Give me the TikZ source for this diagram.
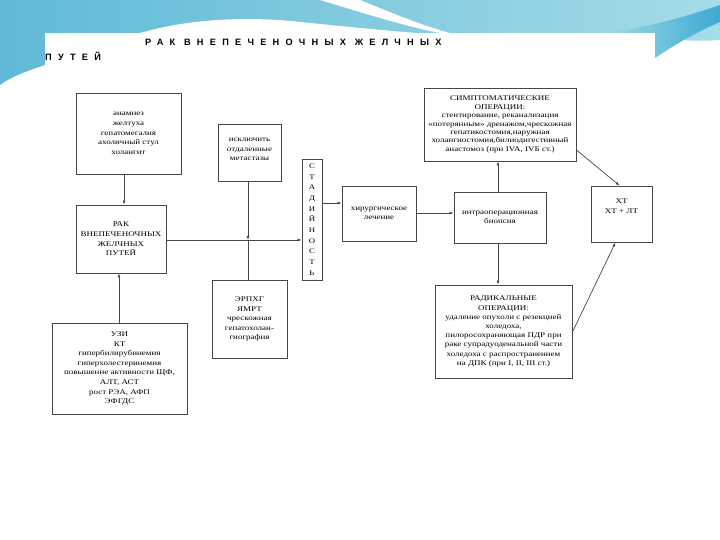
\documentclass[tikz,border=0pt]{standalone}
\usepackage{fontspec}
\setmainfont{Liberation Serif}
\newfontfamily\titlefont[LetterSpace=68]{Liberation Sans}
\newfontfamily\boxfont[FakeStretch=1.25]{Liberation Serif}
\usetikzlibrary{arrows.meta}
\definecolor{bgA}{RGB}{95,185,215}
\definecolor{bgB}{RGB}{165,220,232}
\definecolor{bgC}{RGB}{60,170,210}
\definecolor{boxline}{RGB}{70,70,70}
\tikzset{
  box/.style={draw=boxline, line width=0.9pt, fill=white, align=center, inner sep=1pt, font=\boxfont\fontsize{7.2}{9.6}\selectfont},
  dense/.style={font=\boxfont\fontsize{7.2}{8.4}\selectfont},
  conn/.style={draw=boxline, line width=0.7pt},
  arr/.style={conn, -{Latex[length=4pt,width=3pt]}}
}
\begin{document}
\begin{tikzpicture}[x=1pt,y=-1pt]
\useasboundingbox (0,0) rectangle (720,540);
\fill[white] (0,0) rectangle (720,540);
% background decoration
\shade[left color=bgA, right color=bgB] (0,0) -- (720,0) -- (720,40) .. controls (690,42) and (670,40) .. (655,33) -- (45,33) -- (45,65) .. controls (30,70) and (12,76) .. (0,85) -- cycle;
\fill[white] (120,40) .. controls (170,20) and (240,15) .. (300,22) .. controls (360,28) and (420,34) .. (460,36) -- (460,40) -- (120,42) -- cycle;
\fill[white] (320,0) -- (360,0) .. controls (390,12) and (420,25) .. (450,33) -- (440,33) .. controls (400,25) and (360,12) .. (320,0) -- cycle;
\shade[left color=bgB, right color=bgC] (600,33) .. controls (650,28) and (690,15) .. (720,5) -- (720,22) .. controls (690,35) and (670,48) .. (655,58) -- (655,33) -- cycle;
\fill[white] (45,33) rectangle (655,90);
% title
\node[anchor=west, font=\titlefont\bfseries\fontsize{9.2}{10}\selectfont, inner sep=0pt] (title1) at (145,42) {РАК ВНЕПЕЧЕНОЧНЫХ ЖЕЛЧНЫХ};
\node[anchor=west, font=\titlefont\bfseries\fontsize{9.2}{10}\selectfont, inner sep=0pt] (title2) at (45,56) {ПУТЕЙ};
% boxes
\node[box, minimum width=105pt, minimum height=81pt] (anam) at (128.5,133.5) {анамнез\\желтуха\\гепатомегалия\\ахоличный стул\\холангит};
\node[box, minimum width=90pt, minimum height=68pt] (rak) at (121,239) {РАК\\ВНЕПЕЧЕНОЧНЫХ\\ЖЕЛЧНЫХ\\ПУТЕЙ};
\node[box, minimum width=135pt, minimum height=91pt] (uzi) at (119.5,368.5) {УЗИ\\КТ\\гипербилирубинемия\\гиперхолестеринемия\\повышение активности ЩФ,\\АЛТ, АСТ\\рост РЭА, АФП\\ЭФГДС};
\node[box, minimum width=63pt, minimum height=57pt] (iskl) at (249.5,152.5) {исключить\\отдаленные\\метастазы\\[-4pt]};
\node[box, minimum width=75pt, minimum height=78pt] (erpxg) at (249.5,319) {ЭРПХГ\\ЯМРТ\\чрескожная\\гепатохолан-\\гиография};
\node[box, minimum width=20pt, minimum height=121pt, text width=10pt, font=\boxfont\fontsize{7}{10.7}\selectfont] (stad) at (312,219.5) {С\\Т\\А\\Д\\И\\Й\\Н\\О\\С\\Т\\Ь};
\node[box, minimum width=74pt, minimum height=55pt, text width=70pt] (hir) at (379,213.5) {хирургическое\\лечение\\[12pt]};
\node[box, minimum width=92pt, minimum height=51pt] (biop) at (500,217.5) {интраоперационная\\биопсия};
\node[box, dense, minimum width=152pt, minimum height=73pt] (simp) at (500,124.5) {СИМПТОМАТИЧЕСКИЕ\\ОПЕРАЦИИ:\\стентирование, реканализация\\«потерянным» дренажом,чрескожная\\гепатикостомия,наружная\\холангиостомия,билиодигестивный\\анастомоз (при IVA, IVБ ст.)};
\node[box, minimum width=61pt, minimum height=56pt] (xt) at (621.5,214) {ХТ\\ХТ + ЛТ\\[6pt]};
\node[box, minimum width=137pt, minimum height=93pt, font=\boxfont\fontsize{7.2}{9.2}\selectfont] (rad) at (503.5,331.5) {РАДИКАЛЬНЫЕ\\ОПЕРАЦИИ:\\удаление опухоли с резекцией\\холедоха,\\пилоросохраняющая ПДР при\\раке супрадуоденальной части\\холедоха с распространением\\на ДПК (при I, II, III ст.)};
% connection points
\coordinate (join) at (248,240);
% connectors
\draw[arr] (anam.south -| 124,0) -- (rak.north -| 124,0);
\draw[arr] (uzi.north -| 119,0) -- (rak.south -| 119,0);
\draw[arr] (rak.east |- join) -- (stad.west |- join);
\draw[arr] (iskl.south -| join) -- (join);
\draw[conn] (erpxg.north -| join) -- (join);
\draw[arr] (stad.east |- 0,203) -- (hir.west |- 0,203);
\draw[arr] (hir.east |- 0,213) -- (biop.west |- 0,213);
\draw[arr] (biop.north -| 498,0) -- (simp.south -| 498,0);
\draw[arr] (biop.south -| 498,0) -- (rad.north -| 498,0);
\draw[arr] (simp.east |- 0,150) -- ([xshift=-2pt]xt.north);
\draw[arr] (rad.east |- 0,332) -- ([xshift=-6pt]xt.south);
\end{tikzpicture}
\end{document}
